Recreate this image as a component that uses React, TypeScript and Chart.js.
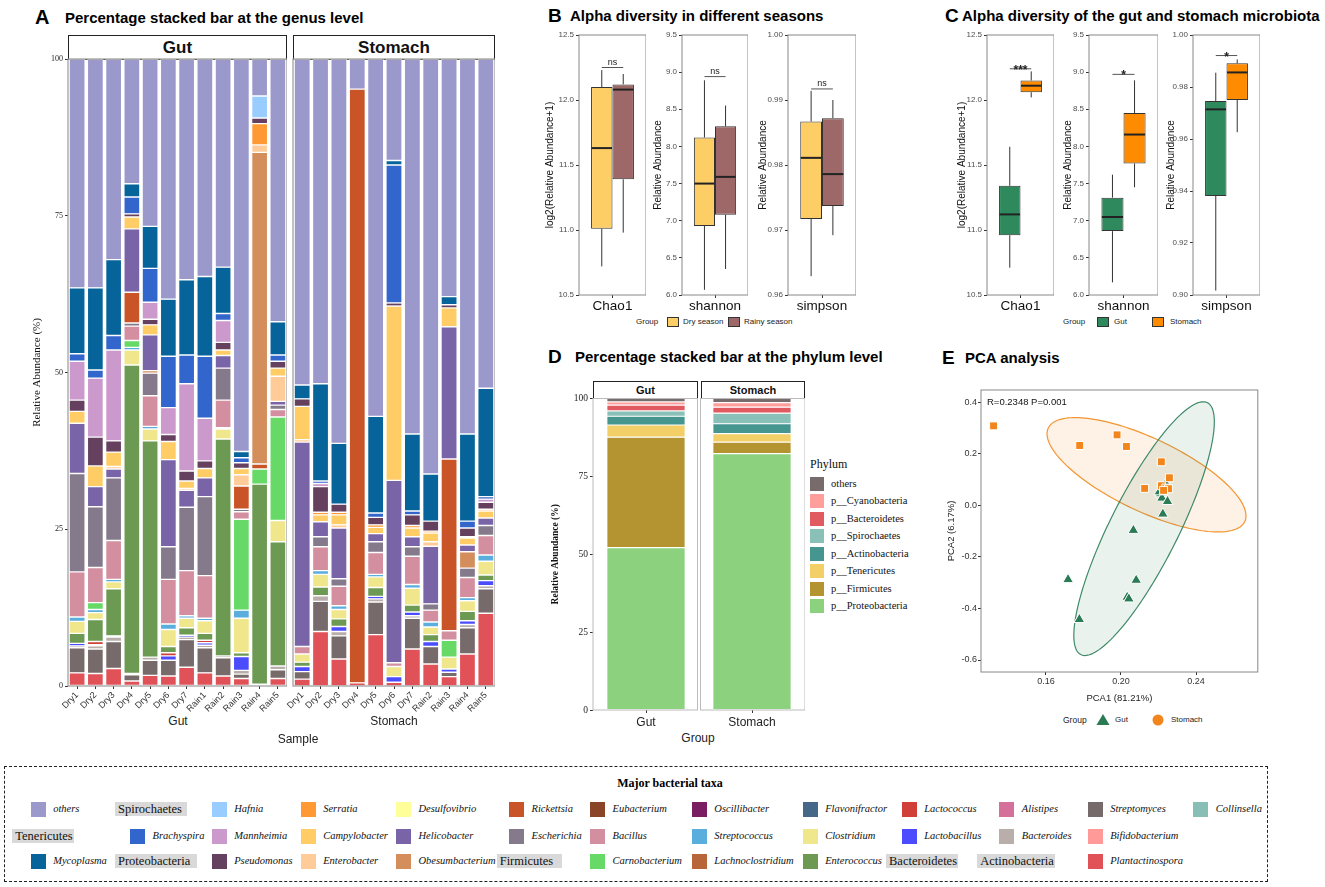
import React, { useEffect, useRef } from "react";
import { Chart, registerables } from "chart.js";

Chart.register(...registerables);

const SANS = '"Liberation Sans", Arial, Helvetica, sans-serif';
const SERIF = '"Liberation Serif", "Times New Roman", Times, serif';

// ================= Panel A : genus level =================
const gutSamples = ["Dry1", "Dry2", "Dry3", "Dry4", "Dry5", "Dry6", "Dry7", "Rain1", "Rain2", "Rain3", "Rain4", "Rain5"];
const stomachSamples = ["Dry1", "Dry2", "Dry3", "Dry4", "Dry5", "Dry6", "Dry7", "Rain2", "Rain3", "Rain4", "Rain5"];

const gutOthers = [36.5, 36.5, 32.0, 19.9, 26.7, 38.3, 35.2, 34.7, 33.2, 62.6, 5.9, 41.9];
const gutMycoplasma = [10.5, 13.1, 12.1, 2.1, 6.7, 9.1, 12.0, 12.7, 7.4, 1.0, 0, 5.3];
const gutBrachyspira = [1.2, 1.3, 2.3, 2.7, 5.4, 8.2, 4.6, 9.9, 1.1, 0.8, 0, 1.0];
const gutHafnia = [0, 0, 0, 0, 0, 0, 0, 0, 0, 0, 3.5, 0];
const gutMannheimia = [6.2, 9.4, 14.5, 0, 2.7, 4.3, 13.9, 6.8, 3.5, 0, 0, 0];
const gutPseudomonas = [1.8, 4.6, 1.8, 0.5, 0.9, 1.1, 1.6, 1.2, 1.2, 0.9, 0.9, 1.1];
const gutSerratia = [0, 0, 0, 0, 0, 0, 0, 0, 0, 0, 3.4, 0];
const gutCampylobacter = [1.9, 3.3, 2.3, 1.9, 1.6, 2.9, 1.2, 1.5, 0.9, 1.0, 0, 1.3];
const gutEnterobacter = [0, 0, 0.4, 0, 0, 0, 0.3, 0, 0, 1.8, 1.2, 4.0];
const gutHelicobacter = [8.0, 3.2, 1.4, 10.1, 5.7, 13.9, 2.7, 3.0, 2.0, 0, 0, 0.6];
const gutObesumbacterium = [0, 0, 0, 0, 0.4, 0, 0, 0, 0, 0, 49.7, 0];
const gutRickettsia = [0, 0, 0, 4.9, 0, 0, 0, 0, 0, 3.7, 0.8, 0];
const gutEscherichia = [15.7, 9.7, 10.0, 0.5, 3.6, 5.2, 10.1, 12.6, 5.1, 0.4, 0, 0.7];
const gutBacillus = [7.2, 5.6, 6.2, 2.3, 4.9, 7.1, 7.2, 6.8, 4.4, 1.2, 0, 1.2];
const gutCarnobacterium = [0, 1.1, 0, 1.1, 0, 0, 0, 0, 0, 14.5, 2.4, 16.5];
const gutStreptococcus = [0.7, 0.5, 0.4, 0.4, 0.4, 0.9, 0.4, 0.4, 0.2, 1.3, 0, 0];
const gutClostridium = [1.9, 1.1, 1.1, 2.4, 1.9, 2.7, 1.5, 2.0, 1.6, 5.5, 0, 3.4];
const gutEnterococcus = [1.6, 3.5, 7.5, 49.2, 34.5, 1.0, 1.2, 1.1, 34.6, 0.6, 31.9, 19.8];
const gutLactococcus = [0, 0.5, 0, 0, 0, 0.5, 0, 0.4, 0, 0, 0, 0];
const gutLactobacillus = [0.4, 0.2, 0.2, 0.2, 0, 0.7, 0.3, 0.4, 0, 2.2, 0, 0];
const gutBacteroides = [0.3, 0.5, 0.7, 0, 0.5, 0, 0.4, 0.4, 0.3, 0.6, 0, 0.6];
const gutStreptomyces = [4.0, 3.9, 4.3, 1.0, 2.4, 2.5, 4.4, 4.0, 2.9, 0.7, 0, 1.4];
const gutPlantactinospora = [2.1, 2.0, 2.8, 0.8, 1.7, 1.6, 3.0, 2.1, 1.6, 1.2, 0.3, 1.2];

const stoOthers = [52.0, 51.8, 61.3, 4.8, 57.0, 16.2, 59.8, 66.2, 37.9, 59.8, 52.5];
const stoMycoplasma = [2.2, 15.5, 9.7, 0, 15.4, 0.7, 12.3, 7.5, 1.3, 13.9, 17.3];
const stoBrachyspira = [0, 0.4, 0, 0, 0.7, 22.0, 0.6, 0, 0, 1.1, 0.4];
const stoHafnia = [0, 0, 0, 0, 0, 0, 0, 0, 0, 0, 0];
const stoMannheimia = [0, 0.5, 0, 0, 0, 0, 0, 0, 0, 0, 0.5];
const stoPseudomonas = [1.2, 4.1, 1.3, 0, 1.2, 0.5, 1.7, 1.6, 0.5, 1.4, 1.1];
const stoSerratia = [0, 0.4, 0.4, 0, 0.4, 0, 0.4, 0.3, 0, 0.2, 0.3];
const stoCampylobacter = [5.3, 1.1, 1.6, 0, 1.0, 27.8, 1.4, 1.4, 3.0, 1.1, 1.1];
const stoEnterobacter = [0.4, 0, 0.5, 0, 0, 0, 0, 0.7, 0, 0, 0];
const stoHelicobacter = [32.6, 2.4, 8.1, 0, 1.3, 29.1, 1.6, 9.2, 21.1, 1.1, 1.2];
const stoObesumbacterium = [0, 0, 0, 0, 0, 0, 0, 0, 0, 2.6, 0];
const stoRickettsia = [0, 0, 0, 94.7, 0, 0, 0, 0, 27.4, 0, 0];
const stoEscherichia = [0, 1.6, 1.2, 0, 1.7, 0, 1.5, 1.0, 0, 1.5, 1.6];
const stoBacillus = [1.2, 3.8, 3.1, 0, 3.5, 0.6, 4.5, 1.9, 1.5, 3.2, 3.1];
const stoCarnobacterium = [0, 0, 0, 0, 0, 0, 0, 0, 2.7, 0, 0];
const stoStreptococcus = [0, 0.6, 0.6, 0, 0.4, 0, 0.6, 0.8, 0, 0.5, 1.0];
const stoClostridium = [1.3, 2.0, 1.5, 0, 1.7, 1.6, 2.7, 1.2, 1.9, 1.7, 2.2];
const stoEnterococcus = [0.7, 1.4, 1.2, 0, 1.4, 0, 1.1, 1.1, 0, 1.5, 0.9];
const stoLactococcus = [0, 0, 0, 0, 0, 0, 0, 0, 0, 0, 0];
const stoLactobacillus = [0.8, 0, 0.8, 0, 0.4, 0.9, 0.6, 0.8, 0.5, 0.6, 0.8];
const stoBacteroides = [0, 0.9, 0.7, 0, 0.5, 0, 0.4, 0, 0, 0.5, 0.5];
const stoStreptomyces = [1.2, 4.8, 3.7, 0, 5.2, 0, 4.9, 2.8, 0.7, 4.2, 3.9];
const stoPlantactinospora = [1.1, 8.7, 4.3, 0.5, 8.2, 0.6, 5.9, 3.5, 1.5, 5.1, 11.6];

const genusColor: Record<string, string> = {
  others: "#9B98CC",
  Mycoplasma: "#06649A",
  Brachyspira: "#3366CC",
  Hafnia: "#99CCFF",
  Mannheimia: "#CC99CC",
  Pseudomonas: "#65405F",
  Serratia: "#FF9933",
  Campylobacter: "#FFCC66",
  Enterobacter: "#FFCC99",
  Desulfovibrio: "#FFFF99",
  Helicobacter: "#7A64A8",
  Obesumbacterium: "#D38E5C",
  Rickettsia: "#C85427",
  Escherichia: "#857A8C",
  Eubacterium: "#8A4526",
  Bacillus: "#D38FA0",
  Carnobacterium: "#66D966",
  Oscillibacter: "#7A1D62",
  Streptococcus: "#5AAEDD",
  Lachnoclostridium: "#B9653A",
  Flavonifractor: "#456889",
  Clostridium: "#F0E68C",
  Enterococcus: "#6D9A53",
  Lactococcus: "#D03F38",
  Lactobacillus: "#4C4CFF",
  Alistipes: "#D5709A",
  Bacteroides: "#B9AEAA",
  Streptomyces: "#776A6A",
  Bifidobacterium: "#FF9A99",
  Plantactinospora: "#E05258",
  Collinsella: "#88BEB6",
};

// stack order, top -> bottom
const gutTable: [string, number[]][] = [
  ["others", gutOthers], ["Mycoplasma", gutMycoplasma], ["Brachyspira", gutBrachyspira], ["Hafnia", gutHafnia],
  ["Mannheimia", gutMannheimia], ["Pseudomonas", gutPseudomonas], ["Serratia", gutSerratia], ["Campylobacter", gutCampylobacter],
  ["Enterobacter", gutEnterobacter], ["Helicobacter", gutHelicobacter], ["Obesumbacterium", gutObesumbacterium], ["Rickettsia", gutRickettsia],
  ["Escherichia", gutEscherichia], ["Bacillus", gutBacillus], ["Carnobacterium", gutCarnobacterium], ["Streptococcus", gutStreptococcus],
  ["Clostridium", gutClostridium], ["Enterococcus", gutEnterococcus], ["Lactococcus", gutLactococcus], ["Lactobacillus", gutLactobacillus],
  ["Bacteroides", gutBacteroides], ["Streptomyces", gutStreptomyces], ["Plantactinospora", gutPlantactinospora],
];
const stoTable: [string, number[]][] = [
  ["others", stoOthers], ["Mycoplasma", stoMycoplasma], ["Brachyspira", stoBrachyspira], ["Hafnia", stoHafnia],
  ["Mannheimia", stoMannheimia], ["Pseudomonas", stoPseudomonas], ["Serratia", stoSerratia], ["Campylobacter", stoCampylobacter],
  ["Enterobacter", stoEnterobacter], ["Helicobacter", stoHelicobacter], ["Obesumbacterium", stoObesumbacterium], ["Rickettsia", stoRickettsia],
  ["Escherichia", stoEscherichia], ["Bacillus", stoBacillus], ["Carnobacterium", stoCarnobacterium], ["Streptococcus", stoStreptococcus],
  ["Clostridium", stoClostridium], ["Enterococcus", stoEnterococcus], ["Lactococcus", stoLactococcus], ["Lactobacillus", stoLactobacillus],
  ["Bacteroides", stoBacteroides], ["Streptomyces", stoStreptomyces], ["Plantactinospora", stoPlantactinospora],
];
const percentTicks = [0, 25, 50, 75, 100];

// ================= Panels B & C : alpha diversity =================
// [min, Q1, median, Q3, max]
const chaoDry = [10.72, 11.01, 11.63, 12.10, 12.23];
const chaoRainy = [10.98, 11.39, 12.08, 12.12, 12.20];
const shannonDry = [6.07, 6.93, 7.50, 8.12, 8.89];
const shannonRainy = [6.35, 7.08, 7.59, 8.27, 8.55];
const simpsonDry = [0.9629, 0.9717, 0.9811, 0.9867, 0.9914];
const simpsonRainy = [0.9692, 0.9737, 0.9786, 0.9872, 0.9900];

const chaoGut = [10.71, 10.96, 11.12, 11.34, 11.64];
const chaoStomach = [12.02, 12.06, 12.11, 12.15, 12.22];
const shannonGut = [6.17, 6.86, 7.05, 7.31, 7.62];
const shannonStomach = [7.45, 7.77, 8.16, 8.45, 8.89];
const simpsonGut = [0.9017, 0.9381, 0.9714, 0.9746, 0.9855];
const simpsonStomach = [0.9626, 0.9750, 0.9856, 0.9891, 0.9906];

const bracketsB = [12.25, 8.94, 0.9917];
const marksB = ["ns", "ns", "ns"];
const bracketsC = [12.24, 8.97, 0.9921];
const marksC = ["***", "*", "*"];

const chaoTicks = [10.5, 11.0, 11.5, 12.0, 12.5];
const shannonTicks = [6.0, 6.5, 7.0, 7.5, 8.0, 8.5, 9.0, 9.5];
const simpsonTicksB = [0.96, 0.97, 0.98, 0.99, 1.0];
const simpsonTicksC = [0.9, 0.92, 0.94, 0.96, 0.98, 1.0];

const DRY = "#FECE66";
const RAINY = "#9E6868";
const GUT = "#2E8A5C";
const STOM = "#FF8C00";

// ================= Panel D : phylum level =================
const phylumGroups = ["Gut", "Stomach"];
const phyProteobacteria = [52.1, 82.3];
const phyFirmicutes = [35.5, 3.7];
const phyTenericutes = [3.9, 2.7];
const phyActinobacteria = [2.8, 3.2];
const phySpirochaetes = [1.7, 3.4];
const phyBacteroidetes = [1.9, 1.9];
const phyCyanobacteria = [1.0, 1.5];
const phyOthers = [1.1, 1.3];
// bottom -> top
const phylumTable: [string, number[], string][] = [
  ["p__Proteobacteria", phyProteobacteria, "#8CD17D"],
  ["p__Firmicutes", phyFirmicutes, "#B39431"],
  ["p__Tenericutes", phyTenericutes, "#F2CF67"],
  ["p__Actinobacteria", phyActinobacteria, "#469690"],
  ["p__Spirochaetes", phySpirochaetes, "#89C0B7"],
  ["p__Bacteroidetes", phyBacteroidetes, "#E15A5F"],
  ["p__Cyanobacteria", phyCyanobacteria, "#FF9E9B"],
  ["others", phyOthers, "#776B6B"],
];

// ================= Panel E : PCA =================
const gutPC1 = [0.2239, 0.2210, 0.2218, 0.2248, 0.2223, 0.2066, 0.1718, 0.2081, 0.2033, 0.2042, 0.1778, 0.2204];
const gutPC2 = [0.0839, 0.0452, 0.0284, 0.0155, -0.0335, -0.0968, -0.2877, -0.2903, -0.3561, -0.3626, -0.4426, 0.0529];
const stoPC1 = [0.1321, 0.1780, 0.1979, 0.2029, 0.2215, 0.2258, 0.2126, 0.2215, 0.2239, 0.2253, 0.2227];
const stoPC2 = [0.3084, 0.2323, 0.2735, 0.2284, 0.1690, 0.1071, 0.0658, 0.0761, 0.0671, 0.0645, 0.0581];
const gutEllipse = { center: [0.2123, -0.0903], axisA: [0.0338, 0.4884], axisB: [0.0161, -0.0618] };
const stoEllipse = { center: [0.2136, 0.1187], axisA: [0.0524, -0.1806], axisB: [0.008, 0.1288] };
const pcaXTicks = [0.16, 0.2, 0.24];
const pcaYTicks = [-0.6, -0.4, -0.2, 0.0, 0.2, 0.4];
const PCA_GUT = "#2B7B55";
const PCA_STO = "#F2851C";

// ================= helpers =================
function frame(color: string, lw: number) {
  return {
    id: "frame",
    afterDatasetsDraw(chart: any) {
      const { ctx, chartArea: a } = chart;
      ctx.save();
      ctx.strokeStyle = color;
      ctx.lineWidth = lw;
      ctx.strokeRect(a.left, a.top, a.right - a.left, a.bottom - a.top);
      ctx.restore();
    },
  };
}

function fixedTicks(values: number[]) {
  return (s: any) => {
    s.ticks = values.map((v) => ({ value: v }));
  };
}

function stackedA(labels: string[], table: [string, number[]][], withY: boolean) {
  const datasets = table
    .slice()
    .reverse()
    .map(([name, vals]) => ({
      label: name,
      data: vals.map((v) => (v > 0 ? v : null)),
      backgroundColor: genusColor[name],
      borderColor: "#ffffff",
      borderWidth: 0.7,
      borderSkipped: false,
      barPercentage: 0.88,
      categoryPercentage: 1,
    }));
  return {
    type: "bar",
    data: { labels, datasets },
    options: {
      responsive: false,
      animation: false,
      devicePixelRatio: 1,
      layout: { padding: { top: 9, left: withY ? 0 : 20, right: 0, bottom: 0 } },
      plugins: { legend: { display: false }, tooltip: { enabled: false } },
      scales: {
        x: {
          stacked: true,
          grid: { display: true, drawOnChartArea: false, drawTicks: true, tickLength: 3, color: "#333", offset: false },
          border: { display: false },
          ticks: { autoSkip: false, maxRotation: 45, minRotation: 45, font: { family: SANS, size: 9 }, color: "#333", padding: 1 },
          afterFit: (s: any) => {
            s.height = 28;
            s.paddingLeft = 0;
            s.paddingRight = 0;
          },
        },
        y: {
          display: withY,
          stacked: true,
          min: 0,
          max: 100,
          afterBuildTicks: fixedTicks(percentTicks),
          ticks: { font: { family: SERIF, size: 8 }, color: "#222", padding: 2 },
          grid: { drawOnChartArea: false, drawTicks: true, tickLength: 3, color: "#333" },
          border: { display: false },
          title: { display: true, text: "Relative Abundance (%)", font: { family: SERIF, size: 11 }, color: "#111", padding: 0 },
          afterFit: (s: any) => {
            s.width = withY ? 37 : 0;
          },
        },
      },
    },
    plugins: [frame("#9a9a9a", 1.2)],
  };
}

const boxPlugin = {
  id: "boxw",
  beforeDatasetsDraw(chart: any) {
    const { ctx } = chart;
    const ys = chart.scales.y;
    ctx.save();
    ctx.strokeStyle = "#333";
    ctx.lineWidth = 1;
    chart.data.datasets.forEach((ds: any, i: number) => {
      const el: any = chart.getDatasetMeta(i).data[0];
      const s = ds.stats;
      ctx.beginPath();
      ctx.moveTo(el.x, ys.getPixelForValue(s[4]));
      ctx.lineTo(el.x, ys.getPixelForValue(s[3]));
      ctx.moveTo(el.x, ys.getPixelForValue(s[1]));
      ctx.lineTo(el.x, ys.getPixelForValue(s[0]));
      ctx.stroke();
    });
    ctx.restore();
  },
  afterDatasetsDraw(chart: any, _args: any, opts: any) {
    const { ctx } = chart;
    const ys = chart.scales.y;
    const xs: number[] = [];
    ctx.save();
    chart.data.datasets.forEach((ds: any, i: number) => {
      const el: any = chart.getDatasetMeta(i).data[0];
      xs.push(el.x);
      const y = ys.getPixelForValue(ds.stats[2]);
      ctx.strokeStyle = "#222";
      ctx.lineWidth = 2;
      ctx.beginPath();
      ctx.moveTo(el.x - el.width / 2 + 0.5, y);
      ctx.lineTo(el.x + el.width / 2 - 0.5, y);
      ctx.stroke();
    });
    const by = ys.getPixelForValue(opts.bracket);
    ctx.strokeStyle = "#555";
    ctx.lineWidth = 1;
    ctx.beginPath();
    ctx.moveTo(xs[0], by);
    ctx.lineTo(xs[1], by);
    ctx.stroke();
    ctx.fillStyle = "#222";
    ctx.textAlign = "center";
    ctx.textBaseline = "alphabetic";
    if (opts.mark === "ns") {
      ctx.font = `9px ${SANS}`;
      ctx.fillText(opts.mark, (xs[0] + xs[1]) / 2, by - 3);
    } else {
      ctx.font = `bold 12px ${SANS}`;
      ctx.fillText(opts.mark, (xs[0] + xs[1]) / 2, by + 5);
    }
    ctx.restore();
  },
};

function boxCfg(p: {
  cat: string;
  a: number[];
  b: number[];
  ca: string;
  cb: string;
  ticks: number[];
  dec: number;
  title: string;
  axisW: number;
  bracket: number;
  mark: string;
}) {
  const mk = (s: number[], c: string) => ({
    data: [[s[1], s[3]]],
    stats: s,
    backgroundColor: c,
    borderColor: "#333",
    borderWidth: 1,
    borderSkipped: false,
    barPercentage: 1,
    categoryPercentage: 0.64,
  });
  return {
    type: "bar",
    data: { labels: [p.cat], datasets: [mk(p.a, p.ca), mk(p.b, p.cb)] },
    options: {
      responsive: false,
      animation: false,
      devicePixelRatio: 1,
      layout: { padding: { top: 10, left: 0, right: 0, bottom: 0 } },
      plugins: { legend: { display: false }, tooltip: { enabled: false }, boxw: { bracket: p.bracket, mark: p.mark } },
      scales: {
        x: {
          grid: { display: true, drawOnChartArea: false, drawTicks: true, tickLength: 3, color: "#333", offset: false },
          border: { display: false },
          ticks: { font: { family: SANS, size: 13.5 }, color: "#111", padding: 0 },
          afterFit: (s: any) => {
            s.height = 22;
          },
        },
        y: {
          min: p.ticks[0],
          max: p.ticks[p.ticks.length - 1],
          afterBuildTicks: fixedTicks(p.ticks),
          ticks: { font: { family: SANS, size: 8 }, color: "#4D4D4D", padding: 2, callback: (v: any) => Number(v).toFixed(p.dec) },
          grid: { drawOnChartArea: false, drawTicks: true, tickLength: 3, color: "#333" },
          border: { display: false },
          title: { display: true, text: p.title, font: { family: SANS, size: 10 }, color: "#111", padding: 0 },
          afterFit: (s: any) => {
            s.width = p.axisW;
          },
        },
      },
    },
    plugins: [boxPlugin, frame("#888", 1)],
  };
}

const facetFramePlugin = {
  id: "facetFrame",
  afterDatasetsDraw(chart: any) {
    const { ctx, chartArea: a } = chart;
    const n = chart.data.labels.length;
    const slot = (a.right - a.left) / n;
    ctx.save();
    ctx.strokeStyle = "#BBBBBB";
    ctx.lineWidth = 1;
    for (let i = 0; i < n; i++) {
      const l = a.left + i * slot + (i === 0 ? 0 : 1.5);
      const r = a.left + (i + 1) * slot - (i === n - 1 ? 0 : 1.5);
      ctx.strokeRect(l, a.top, r - l, a.bottom - a.top);
    }
    ctx.restore();
  },
};

function phylumCfg() {
  return {
    type: "bar",
    data: {
      labels: phylumGroups,
      datasets: phylumTable.map(([name, vals, color]) => ({
        label: name,
        data: vals,
        backgroundColor: color,
        borderColor: "#ffffff",
        borderWidth: 0.6,
        borderSkipped: false,
        barPercentage: 0.74,
        categoryPercentage: 1,
      })),
    },
    options: {
      responsive: false,
      animation: false,
      devicePixelRatio: 1,
      layout: { padding: { top: 8.5, left: 0, right: 0, bottom: 0 } },
      plugins: { legend: { display: false }, tooltip: { enabled: false } },
      scales: {
        x: {
          stacked: true,
          grid: { display: true, drawOnChartArea: false, drawTicks: true, tickLength: 3, color: "#333", offset: false },
          border: { display: false },
          ticks: { font: { family: SANS, size: 12 }, color: "#222", padding: 2 },
          afterFit: (s: any) => {
            s.height = 20;
          },
        },
        y: {
          stacked: true,
          min: 0,
          max: 100,
          afterBuildTicks: fixedTicks(percentTicks),
          ticks: { font: { family: SERIF, size: 9.5 }, color: "#222", padding: 2 },
          grid: { drawOnChartArea: false, drawTicks: true, tickLength: 3, color: "#333" },
          border: { display: false },
          title: { display: true, text: "Relative Abundance (%)", font: { family: SERIF, size: 9.5, weight: "bold" }, color: "#111", padding: 0 },
          afterFit: (s: any) => {
            s.width = 43;
          },
        },
      },
    },
    plugins: [facetFramePlugin],
  };
}

const ellipsePlugin = {
  id: "ellip",
  beforeDatasetsDraw(chart: any, _a: any, opts: any) {
    const { ctx, chartArea: ca } = chart;
    const xs = chart.scales.x;
    const ys = chart.scales.y;
    ctx.save();
    ctx.beginPath();
    ctx.rect(ca.left, ca.top, ca.right - ca.left, ca.bottom - ca.top);
    ctx.clip();
    for (const e of opts.items) {
      ctx.beginPath();
      const N = 160;
      for (let k = 0; k <= N; k++) {
        const t = (k / N) * Math.PI * 2;
        const px = xs.getPixelForValue(e.el.center[0] + e.el.axisA[0] * Math.cos(t) + e.el.axisB[0] * Math.sin(t));
        const py = ys.getPixelForValue(e.el.center[1] + e.el.axisA[1] * Math.cos(t) + e.el.axisB[1] * Math.sin(t));
        if (k === 0) ctx.moveTo(px, py);
        else ctx.lineTo(px, py);
      }
      ctx.closePath();
      ctx.fillStyle = e.fill;
      ctx.fill();
      ctx.strokeStyle = e.stroke;
      ctx.lineWidth = 1.2;
      ctx.stroke();
    }
    ctx.restore();
  },
  afterDraw(chart: any) {
    const { ctx, chartArea: ca } = chart;
    const ys = chart.scales.y;
    ctx.save();
    ctx.fillStyle = "#111";
    ctx.font = `9.5px ${SANS}`;
    ctx.textAlign = "left";
    ctx.textBaseline = "middle";
    ctx.fillText("R=0.2348 P=0.001", ca.left + 6, ys.getPixelForValue(0.4));
    ctx.restore();
  },
};

function pcaCfg() {
  return {
    type: "scatter",
    data: {
      datasets: [
        {
          label: "Stomach",
          data: stoPC1.map((x, i) => ({ x, y: stoPC2[i] })),
          pointStyle: "rect",
          pointRadius: 5.6,
          backgroundColor: PCA_STO,
          borderColor: "#ffffff",
          borderWidth: 1,
        },
        {
          label: "Gut",
          data: gutPC1.map((x, i) => ({ x, y: gutPC2[i] })),
          pointStyle: "triangle",
          pointRadius: 6.2,
          backgroundColor: PCA_GUT,
          borderColor: "#ffffff",
          borderWidth: 1,
        },
      ],
    },
    options: {
      responsive: false,
      animation: false,
      devicePixelRatio: 1,
      layout: { padding: { top: 10, left: 0, right: 0, bottom: 0 } },
      plugins: {
        legend: { display: false },
        tooltip: { enabled: false },
        ellip: {
          items: [
            { el: stoEllipse, fill: "rgba(245,140,40,0.11)", stroke: "#F39530" },
            { el: gutEllipse, fill: "rgba(46,125,90,0.10)", stroke: "#3E8A68" },
          ],
        },
      },
      scales: {
        x: {
          type: "linear",
          min: 0.1254,
          max: 0.2729,
          afterBuildTicks: fixedTicks(pcaXTicks),
          ticks: { font: { family: SANS, size: 9 }, color: "#333", padding: 1, callback: (v: any) => Number(v).toFixed(2) },
          grid: { drawOnChartArea: false, drawTicks: true, tickLength: 3, color: "#333" },
          border: { display: false },
          title: { display: true, text: "PCA1 (81.21%)", font: { family: SANS, size: 9.5 }, color: "#222", padding: 0 },
          afterFit: (s: any) => {
            s.height = 32;
          },
        },
        y: {
          type: "linear",
          min: -0.6465,
          max: 0.4476,
          afterBuildTicks: fixedTicks(pcaYTicks),
          ticks: { font: { family: SANS, size: 9 }, color: "#333", padding: 1, callback: (v: any) => Number(v).toFixed(1) },
          grid: { drawOnChartArea: false, drawTicks: true, tickLength: 3, color: "#333" },
          border: { display: false },
          title: { display: true, text: "PCA2 (6.17%)", font: { family: SANS, size: 9.5 }, color: "#222", padding: 0 },
          afterFit: (s: any) => {
            s.width = 35;
          },
        },
      },
    },
    plugins: [ellipsePlugin, frame("#888", 1)],
  };
}

function ChartCanvas({ left, top, width, height, make }: { left: number; top: number; width: number; height: number; make: () => any }) {
  const ref = useRef<HTMLCanvasElement | null>(null);
  useEffect(() => {
    if (!ref.current) return;
    const chart = new Chart(ref.current, make());
    return () => chart.destroy();
  }, []);
  return <canvas ref={ref} width={width} height={height} style={{ position: "absolute", left, top, width, height }} />;
}

function Txt(p: {
  x: number;
  y: number;
  children: any;
  size?: number;
  bold?: boolean;
  italic?: boolean;
  family?: string;
  anchor?: "start" | "middle" | "end";
  color?: string;
}) {
  const tx = p.anchor === "middle" ? "-50%" : p.anchor === "end" ? "-100%" : "0";
  return (
    <div
      style={{
        position: "absolute",
        left: p.x,
        top: p.y,
        transform: `translate(${tx}, -50%)`,
        fontSize: p.size ?? 12,
        fontWeight: p.bold ? 700 : 400,
        fontStyle: p.italic ? "italic" : "normal",
        fontFamily: p.family ?? SANS,
        color: p.color ?? "#000",
        whiteSpace: "nowrap",
        lineHeight: 1,
      }}
    >
      {p.children}
    </div>
  );
}

function Strip({ left, top, width, height, size, children }: any) {
  return (
    <div
      style={{
        position: "absolute",
        left,
        top,
        width,
        height,
        boxSizing: "border-box",
        border: "1.3px solid #222",
        background: "#fff",
        display: "flex",
        alignItems: "center",
        justifyContent: "center",
        fontFamily: SANS,
        fontWeight: 700,
        fontSize: size,
        color: "#111",
      }}
    >
      {children}
    </div>
  );
}

function Box({ x, y, w, h, color, border }: any) {
  return (
    <div
      style={{
        position: "absolute",
        left: x,
        top: y - h / 2,
        width: w,
        height: h,
        boxSizing: "border-box",
        background: color,
        border: border ?? "none",
      }}
    />
  );
}

// ---- bottom legend layout ----
const legendRows = [809, 836, 861];
type LegItem = { kind: "sw" | "hd"; name: string; row: number; x: number; w?: number };
const legendItems: LegItem[] = [
  { kind: "sw", name: "others", row: 0, x: 30.7 },
  { kind: "hd", name: "Spirochaetes", row: 0, x: 115, w: 72 },
  { kind: "sw", name: "Hafnia", row: 0, x: 211.7 },
  { kind: "sw", name: "Serratia", row: 0, x: 300.7 },
  { kind: "sw", name: "Desulfovibrio", row: 0, x: 396 },
  { kind: "sw", name: "Rickettsia", row: 0, x: 509 },
  { kind: "sw", name: "Eubacterium", row: 0, x: 590 },
  { kind: "sw", name: "Oscillibacter", row: 0, x: 691.8 },
  { kind: "sw", name: "Flavonifractor", row: 0, x: 802.7 },
  { kind: "sw", name: "Lactococcus", row: 0, x: 901.7 },
  { kind: "sw", name: "Alistipes", row: 0, x: 999.3 },
  { kind: "sw", name: "Streptomyces", row: 0, x: 1087.7 },
  { kind: "sw", name: "Collinsella", row: 0, x: 1193.3 },

  { kind: "hd", name: "Tenericutes", row: 1, x: 12.3, w: 62 },
  { kind: "sw", name: "Brachyspira", row: 1, x: 130 },
  { kind: "sw", name: "Mannheimia", row: 1, x: 211.7 },
  { kind: "sw", name: "Campylobacter", row: 1, x: 300.7 },
  { kind: "sw", name: "Helicobacter", row: 1, x: 396 },
  { kind: "sw", name: "Escherichia", row: 1, x: 509 },
  { kind: "sw", name: "Bacillus", row: 1, x: 590 },
  { kind: "sw", name: "Streptococcus", row: 1, x: 691.8 },
  { kind: "sw", name: "Clostridium", row: 1, x: 802.7 },
  { kind: "sw", name: "Lactobacillus", row: 1, x: 901.7 },
  { kind: "sw", name: "Bacteroides", row: 1, x: 999.3 },
  { kind: "sw", name: "Bifidobacterium", row: 1, x: 1087.7 },

  { kind: "sw", name: "Mycoplasma", row: 2, x: 30.7 },
  { kind: "hd", name: "Proteobacteria", row: 2, x: 115, w: 82 },
  { kind: "sw", name: "Pseudomonas", row: 2, x: 211.7 },
  { kind: "sw", name: "Enterobacter", row: 2, x: 300.7 },
  { kind: "sw", name: "Obesumbacterium", row: 2, x: 396 },
  { kind: "hd", name: "Firmicutes", row: 2, x: 496.7, w: 65 },
  { kind: "sw", name: "Carnobacterium", row: 2, x: 590 },
  { kind: "sw", name: "Lachnoclostridium", row: 2, x: 691.8 },
  { kind: "sw", name: "Enterococcus", row: 2, x: 802.7 },
  { kind: "hd", name: "Bacteroidetes", row: 2, x: 886, w: 72 },
  { kind: "hd", name: "Actinobacteria", row: 2, x: 977.3, w: 78 },
  { kind: "sw", name: "Plantactinospora", row: 2, x: 1087.7 },
];

export default function App() {
  const phylumLegend = phylumTable.slice().reverse();
  return (
    <div style={{ position: "absolute", left: 0, top: 0, width: 1325, height: 887, background: "#fff", overflow: "hidden", fontFamily: SANS }}>
      {/* ---------- Panel A ---------- */}
      <Txt x={35} y={17} size={20} bold>A</Txt>
      <Txt x={65} y={17} size={15} bold>Percentage stacked bar at the genus level</Txt>
      <Strip left={68} top={35} width={219} height={25} size={17}>Gut</Strip>
      <Strip left={293} top={35} width={202} height={25} size={17}>Stomach</Strip>
      <ChartCanvas left={31} top={50} width={256} height={664} make={() => stackedA(gutSamples, gutTable, true)} />
      <ChartCanvas left={273} top={50} width={222} height={664} make={() => stackedA(stomachSamples, stoTable, false)} />
      <Txt x={178} y={721} size={12} anchor="middle" color="#222">Gut</Txt>
      <Txt x={394} y={721} size={12} anchor="middle" color="#222">Stomach</Txt>
      <Txt x={298} y={739} size={12} anchor="middle" color="#222">Sample</Txt>

      {/* ---------- Panel B ---------- */}
      <Txt x={548} y={15} size={19} bold>B</Txt>
      <Txt x={570} y={15} size={15} bold>Alpha diversity in different seasons</Txt>
      <ChartCanvas left={544} top={25} width={102} height={292} make={() => boxCfg({ cat: "Chao1", a: chaoDry, b: chaoRainy, ca: DRY, cb: RAINY, ticks: chaoTicks, dec: 1, title: "log2(Relative Abundance+1)", axisW: 35, bracket: bracketsB[0], mark: marksB[0] })} />
      <ChartCanvas left={652} top={25} width={96} height={292} make={() => boxCfg({ cat: "shannon", a: shannonDry, b: shannonRainy, ca: DRY, cb: RAINY, ticks: shannonTicks, dec: 1, title: "Relative Abundance", axisW: 30, bracket: bracketsB[1], mark: marksB[1] })} />
      <ChartCanvas left={757} top={25} width={99} height={292} make={() => boxCfg({ cat: "simpson", a: simpsonDry, b: simpsonRainy, ca: DRY, cb: RAINY, ticks: simpsonTicksB, dec: 2, title: "Relative Abundance", axisW: 31, bracket: bracketsB[2], mark: marksB[2] })} />
      <Txt x={636} y={322} size={8} color="#222">Group</Txt>
      <Box x={667} y={322} w={12} h={10} color={DRY} border="1px solid #333" />
      <Txt x={683} y={322} size={8} color="#222">Dry season</Txt>
      <Box x={728} y={322} w={12} h={10} color={RAINY} border="1px solid #333" />
      <Txt x={744} y={322} size={8} color="#222">Rainy season</Txt>

      {/* ---------- Panel C ---------- */}
      <Txt x={945} y={15} size={19} bold>C</Txt>
      <Txt x={962} y={15} size={15} bold>Alpha diversity of the gut and stomach microbiota</Txt>
      <ChartCanvas left={956} top={25} width={98} height={292} make={() => boxCfg({ cat: "Chao1", a: chaoGut, b: chaoStomach, ca: GUT, cb: STOM, ticks: chaoTicks, dec: 1, title: "log2(Relative Abundance+1)", axisW: 31, bracket: bracketsC[0], mark: marksC[0] })} />
      <ChartCanvas left={1062} top={25} width={96} height={292} make={() => boxCfg({ cat: "shannon", a: shannonGut, b: shannonStomach, ca: GUT, cb: STOM, ticks: shannonTicks, dec: 1, title: "Relative Abundance", axisW: 27, bracket: bracketsC[1], mark: marksC[1] })} />
      <ChartCanvas left={1165} top={25} width={95} height={292} make={() => boxCfg({ cat: "simpson", a: simpsonGut, b: simpsonStomach, ca: GUT, cb: STOM, ticks: simpsonTicksC, dec: 2, title: "Relative Abundance", axisW: 28, bracket: bracketsC[2], mark: marksC[2] })} />
      <Txt x={1063} y={322} size={8} color="#222">Group</Txt>
      <Box x={1097} y={322} w={12} h={10} color={GUT} border="1px solid #333" />
      <Txt x={1114} y={322} size={8} color="#222">Gut</Txt>
      <Box x={1152} y={322} w={12} h={10} color={STOM} border="1px solid #333" />
      <Txt x={1170} y={322} size={8} color="#222">Stomach</Txt>

      {/* ---------- Panel D ---------- */}
      <Txt x={548} y={356} size={19} bold>D</Txt>
      <Txt x={575} y={356} size={15} bold>Percentage stacked bar at the phylum level</Txt>
      <Strip left={593} top={381} width={105} height={18} size={11}>Gut</Strip>
      <Strip left={701} top={381} width={104} height={18} size={11}>Stomach</Strip>
      <ChartCanvas left={550} top={390} width={255} height={340} make={phylumCfg} />
      <Txt x={698} y={738} size={12} anchor="middle" color="#222">Group</Txt>
      <Txt x={810} y={464} size={12} family={SERIF} color="#111">Phylum</Txt>
      {phylumLegend.map(([name, , color], i) => (
        <React.Fragment key={name}>
          <Box x={810} y={483.7 + i * 17.5} w={14} h={14} color={color} />
          <Txt x={831} y={483.7 + i * 17.5} size={10.5} family={SERIF} color="#111">{name}</Txt>
        </React.Fragment>
      ))}

      {/* ---------- Panel E ---------- */}
      <Txt x={942} y={357} size={19} bold>E</Txt>
      <Txt x={965} y={357} size={15} bold>PCA analysis</Txt>
      <ChartCanvas left={946} top={380} width={319} height={324} make={pcaCfg} />
      <Txt x={1063} y={720} size={8.5} color="#222">Group</Txt>
      <svg style={{ position: "absolute", left: 1096, top: 713 }} width={14} height={13}>
        <polygon points="7,1 13.5,12 0.5,12" fill={PCA_GUT} />
      </svg>
      <Txt x={1115} y={720} size={8} color="#222">Gut</Txt>
      <svg style={{ position: "absolute", left: 1152, top: 714 }} width={12} height={12}>
        <circle cx={6} cy={6} r={5.5} fill={PCA_STO} />
      </svg>
      <Txt x={1171} y={720} size={8} color="#222">Stomach</Txt>

      {/* ---------- Bottom legend ---------- */}
      <div style={{ position: "absolute", left: 4, top: 766, width: 1264, height: 116, boxSizing: "border-box", border: "1.5px dashed #222" }} />
      <Txt x={670} y={783} size={12} bold family={SERIF} anchor="middle">Major bacterial taxa</Txt>
      {legendItems.map((it) =>
        it.kind === "sw" ? (
          <React.Fragment key={it.name}>
            <Box x={it.x} y={legendRows[it.row]} w={15} h={15} color={genusColor[it.name]} />
            <Txt x={it.x + 22.5} y={legendRows[it.row]} size={10.5} italic family={SERIF} color="#111">{it.name}</Txt>
          </React.Fragment>
        ) : (
          <div
            key={it.name}
            style={{
              position: "absolute",
              left: it.x,
              top: legendRows[it.row] - 7,
              width: it.w,
              height: 14,
              background: "#D9D9D9",
              fontFamily: SERIF,
              fontSize: 12.5,
              lineHeight: "14px",
              paddingLeft: 3,
              boxSizing: "border-box",
              whiteSpace: "nowrap",
              color: "#111",
            }}
          >
            {it.name}
          </div>
        )
      )}
    </div>
  );
}
